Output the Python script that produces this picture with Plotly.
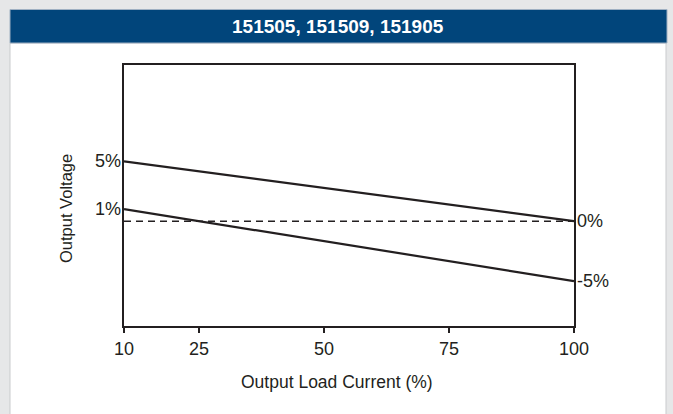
import plotly.graph_objects as go

# ---- data ----
load_pct = [10, 100]                 # Output Load Current (%)
upper_line = [5, 0]                  # Output voltage deviation (%)
lower_line = [1, -5]
nominal = [0, 0]
x_ticks = [10, 25, 50, 75, 100]
left_labels = ["5%", "1%"]
right_labels = ["0%", "-5%"]
title_text = "151505, 151509, 151905"

FONT = "Liberation Sans, Arial, Helvetica, sans-serif"
INK = "#231f20"

fig = go.Figure()
fig.add_trace(go.Scatter(x=load_pct, y=nominal, mode="lines",
                         line=dict(color=INK, width=1.5, dash="7px,5px"), hoverinfo="skip"))
fig.add_trace(go.Scatter(x=load_pct, y=upper_line, mode="lines",
                         line=dict(color=INK, width=2.2), hoverinfo="skip"))
fig.add_trace(go.Scatter(x=load_pct, y=lower_line, mode="lines",
                         line=dict(color=INK, width=2.2), hoverinfo="skip"))

# plot area in pixels
L, R, T, B = 124, 574, 65, 326
W, H = 673, 414
def px(x): return (x - L) / (R - L)
def py(y): return (B - y) / (B - T)

annotations = []
for lab, val in zip(left_labels, [upper_line[0], lower_line[0]]):
    annotations.append(dict(x=load_pct[0], y=val, text=lab, showarrow=False,
                            xanchor="right", yanchor="middle", xshift=-1,
                            font=dict(family=FONT, size=18, color=INK)))
for lab, val in zip(right_labels, [upper_line[1], lower_line[1]]):
    annotations.append(dict(x=load_pct[1], y=val, text=lab, showarrow=False,
                            xanchor="left", yanchor="middle", xshift=1,
                            font=dict(family=FONT, size=18, color=INK)))
annotations.append(dict(xref="paper", yref="paper", x=px(338), y=py(26), text=title_text,
                        showarrow=False, xanchor="center", yanchor="middle",
                        font=dict(family=FONT, size=19, color="white", weight="bold")))
annotations.append(dict(xref="paper", yref="paper", x=px(66), y=py(209), text="Output Voltage",
                        textangle=-90, showarrow=False, xanchor="center", yanchor="middle",
                        font=dict(family=FONT, size=16.5, color=INK)))
annotations.append(dict(xref="paper", yref="paper", x=px(337), y=py(382), text="Output Load Current (%)",
                        showarrow=False, xanchor="center", yanchor="middle",
                        font=dict(family=FONT, size=17.5, color=INK)))

shapes = [
    dict(type="rect", xref="paper", yref="paper", x0=px(10), x1=px(666), y0=py(43), y1=py(420),
         fillcolor="white", line=dict(color="#c9cbcd", width=1), layer="below"),
    dict(type="rect", xref="paper", yref="paper", x0=px(10), x1=px(667), y0=py(9.5), y1=py(43),
         fillcolor="#01457b", line=dict(color="#9fb0c2", width=1), layer="below"),
]

fig.update_layout(
    width=W, height=H,
    margin=dict(l=L, r=W - R, t=T, b=H - B),
    paper_bgcolor="#e6e7e8", plot_bgcolor="white",
    showlegend=False,
    font=dict(family=FONT, color=INK),
    annotations=annotations, shapes=shapes,
    xaxis=dict(range=[10, 100], tickvals=x_ticks, ticktext=[str(t) for t in x_ticks],
               showgrid=False, zeroline=False, showline=True, mirror=True,
               linecolor=INK, linewidth=2, ticks="outside", ticklen=5, tickwidth=1.5,
               tickcolor=INK, tickfont=dict(family=FONT, size=18, color=INK)),
    yaxis=dict(range=[-8.75, 13.04], showticklabels=False, ticks="",
               showgrid=False, zeroline=False, showline=True, mirror=True,
               linecolor=INK, linewidth=2),
)

fig.write_html("out.html", config={"displayModeBar": False, "staticPlot": True},
               post_script="document.body.style.margin='0';document.body.style.overflow='hidden';")
